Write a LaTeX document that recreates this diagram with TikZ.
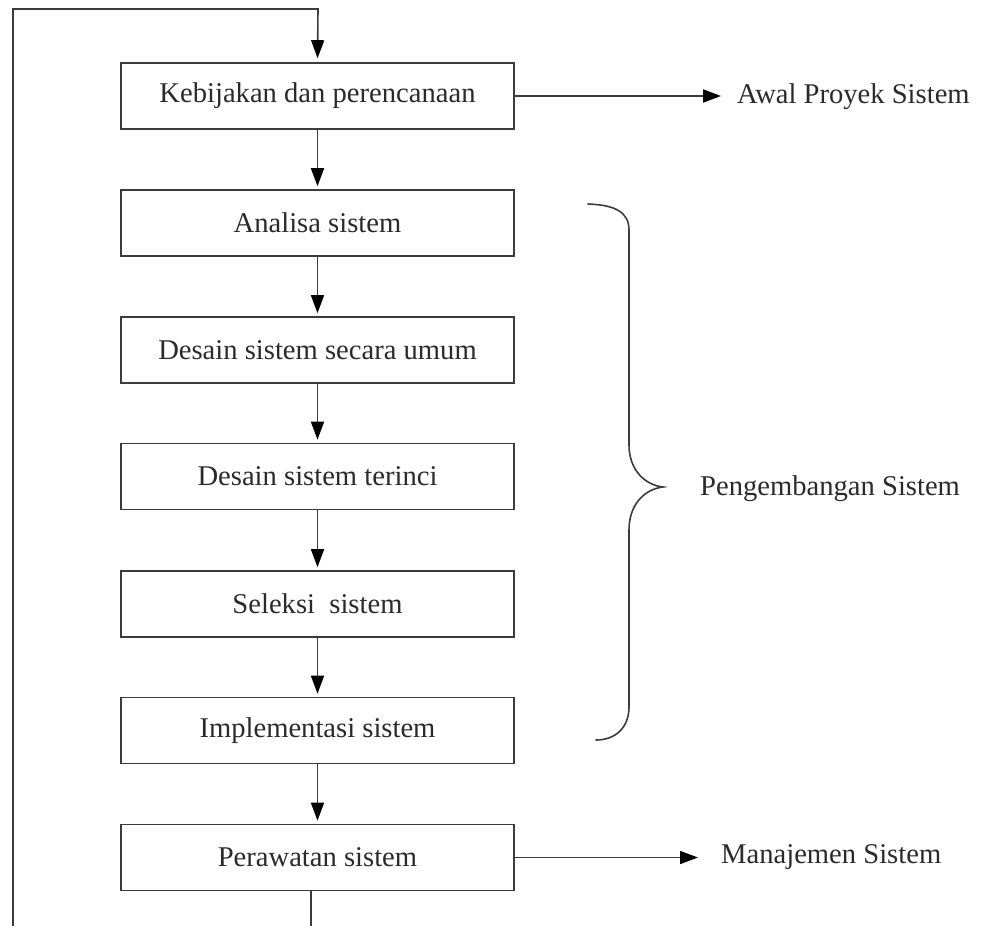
\documentclass[tikz,border=0pt]{standalone}
\usepackage{fontspec}
\setmainfont{Liberation Serif}
\usetikzlibrary{arrows.meta,calc}
\definecolor{linegray}{HTML}{3C3C3C}
\definecolor{textgray}{HTML}{2A2A2A}
\begin{document}
\begin{tikzpicture}[x=1pt,y=-1pt,
  every node/.style={font=\fontsize{28.6}{34}\selectfont, text=textgray, inner sep=0pt},
  stepbox/.style={draw=linegray, line width=1.6pt, rectangle, minimum width=393pt, minimum height=66pt},
  link/.style={draw=linegray, line width=1.6pt},
  arr/.style={link, -{Triangle[length=18pt,width=13pt,color=black]}},
  label/.style={anchor=west}]
  \useasboundingbox (0,0) rectangle (983,926);

  % process steps
  \node[stepbox] (b1) at (317.5,96)   {Kebijakan dan perencanaan};
  \node[stepbox] (b2) at (317.5,223)  {Analisa sistem};
  \node[stepbox] (b3) at (317.5,350)  {Desain sistem secara umum};
  \node[stepbox] (b4) at (317.5,476.5){Desain sistem terinci};
  \node[stepbox] (b5) at (317.5,604)  {Seleksi\ \ sistem};
  \node[stepbox] (b6) at (317.5,730.5){Implementasi sistem};
  \node[stepbox] (b7) at (317.5,857.5){Perawatan sistem};

  % side labels
  \node[label] (awal) at (737,97)  {Awal Proyek Sistem};
  \node[label] (dev)  at (700,489) {Pengembangan Sistem};
  \node[label] (mgmt) at (721,857) {Manajemen Sistem};

  % downward flow
  \foreach \a/\b in {b1/b2,b2/b3,b3/b4,b4/b5,b5/b6,b6/b7}
    \draw[arr, shorten >=3pt] (\a.south) -- (\b.north);

  % outputs to the right
  \draw[arr] (b1.east) -- ($(b1.east -| awal.west)+(-16,0)$);
  \draw[arr] (b7.east) -- ($(b7.east -| mgmt.west)+(-23,0)$);

  % feedback loop back to the top
  \coordinate (loopbot) at (13,926);
  \coordinate (looptl)  at (13,9);
  \coordinate (looptr)  at (318,9);
  \coordinate (outbot)  at (311,926);
  \draw[link] ([xshift=-6.5pt]b7.south) -- (outbot);
  \draw[arr, shorten >=4pt] (loopbot) -- (looptl) -- (looptr) -- (b1.north);

  % brace grouping the development phases
  \draw[link, line cap=round]
    (588,204) .. controls (615,205) and (629,212) .. (629,230)
    -- (629,445)
    .. controls (629,470) and (645,485) .. (663,487)
    .. controls (645,489) and (629,504) .. (629,530)
    -- (629,707)
    .. controls (629,728) and (615,740) .. (596,740);
\end{tikzpicture}
\end{document}
